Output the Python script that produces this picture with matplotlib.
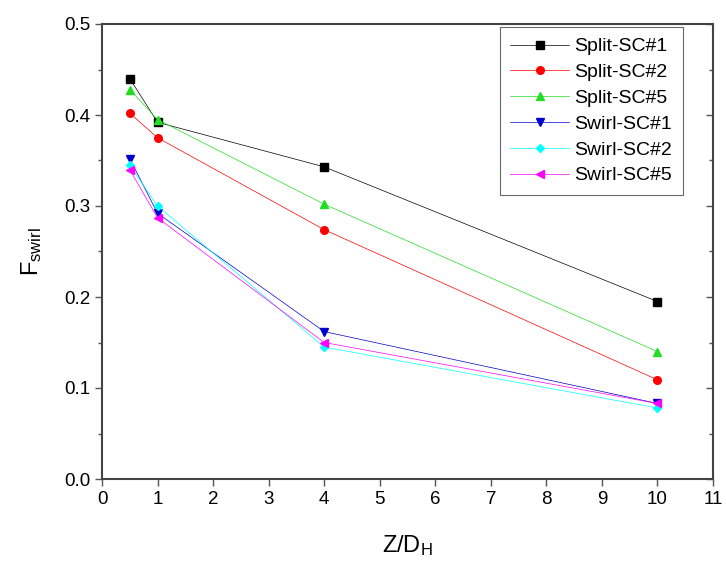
import matplotlib
matplotlib.use('Agg')
import matplotlib.pyplot as plt
from matplotlib.ticker import MultipleLocator

plt.rcParams['font.family'] = ['Liberation Sans', 'DejaVu Sans']
plt.rcParams['mathtext.default'] = 'regular'

z = [0.5, 1, 4, 10]

split_sc1 = [0.440, 0.392, 0.343, 0.195]
split_sc2 = [0.402, 0.375, 0.274, 0.109]
split_sc5 = [0.428, 0.395, 0.302, 0.140]
swirl_sc1 = [0.352, 0.292, 0.162, 0.083]
swirl_sc2 = [0.345, 0.300, 0.145, 0.078]
swirl_sc5 = [0.340, 0.287, 0.150, 0.083]

series = [
    ('Split-SC#1', split_sc1, 's', 'black'),
    ('Split-SC#2', split_sc2, 'o', 'red'),
    ('Split-SC#5', split_sc5, '^', '#22dd22'),
    ('Swirl-SC#1', swirl_sc1, 'v', '#0000cc'),
    ('Swirl-SC#2', swirl_sc2, 'D', 'cyan'),
    ('Swirl-SC#5', swirl_sc5, '<', 'magenta'),
]

fig = plt.figure(figsize=(7.26, 5.64), dpi=100)
ax = fig.add_axes([102 / 726, 1 - 479 / 564, (713 - 102) / 726, (479 - 24) / 564])

for name, vals, m, c in series:
    ms = 4.5 if m == 'D' else 5.5
    ax.plot(z, vals, marker=m, color=c, label=name, linewidth=0.5, markersize=ms)

ax.set_xlim(0, 11)
ax.set_ylim(0, 0.5)
ax.xaxis.set_major_locator(MultipleLocator(1))
ax.yaxis.set_major_locator(MultipleLocator(0.1))
ax.yaxis.set_minor_locator(MultipleLocator(0.05))
ax.yaxis.set_major_formatter(matplotlib.ticker.FormatStrFormatter('%.1f'))

ax.tick_params(axis='both', which='major', labelsize=13.5, length=5, width=1, color='#555555')
ax.tick_params(axis='y', which='minor', length=3, width=1, color='#555555')
ax.tick_params(axis='y', which='both', right=True, direction='out')
# right-side ticks point inward, like the original
for t in ax.yaxis.get_major_ticks() + ax.yaxis.get_minor_ticks():
    t.tick2line.set_marker(matplotlib.lines.TICKLEFT)
for s in ax.spines.values():
    s.set_linewidth(1.5)
    s.set_color('#444444')

ax.set_xlabel('Z/D$_H$', fontsize=17, labelpad=18)
ax.set_ylabel('F$_{swirl}$', fontsize=17, labelpad=14)

leg = ax.legend(loc='upper right', fontsize=14, frameon=True, fancybox=False,
                edgecolor='#444444', borderpad=0.55, labelspacing=0.42,
                handlelength=3.0, handletextpad=0.3, borderaxespad=0,
                bbox_to_anchor=(0.951, 0.993))
leg.get_frame().set_linewidth(0.8)

fig.savefig('out.png', dpi=100)
